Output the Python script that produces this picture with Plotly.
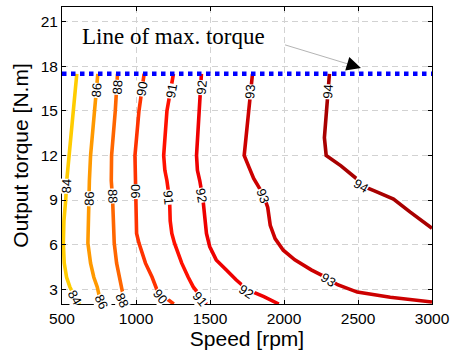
import plotly.graph_objects as go

# Axis ranges and ticks
speed_range = [500, 3000]
torque_range = [2, 22]
speed_ticks = [500, 1000, 1500, 2000, 2500, 3000]
torque_ticks = [3, 6, 9, 12, 15, 18, 21]
max_torque = 17.5

# Iso-efficiency lines (efficiency in %), speed in rpm, torque in N.m
eff84_speed = [600, 575, 547, 533, 525, 513, 509, 515, 531, 553, 585, 620]
eff84_torque = [17.5, 15, 12, 10.4, 9, 7.6, 6.1, 4.75, 3.8, 3.15, 2.5, 2.0]

eff86_speed = [742, 720, 693, 685, 682, 675, 675, 693, 715, 738, 764]
eff86_torque = [17.5, 15, 12, 10.3, 9, 7.6, 6.1, 4.75, 3.8, 3.15, 2.0]

eff88_speed = [875, 860, 835, 833, 842, 849, 853, 869, 887, 898, 925]
eff88_torque = [17.5, 15, 12, 10.3, 9, 7.6, 6.1, 4.75, 3.8, 3.15, 2.0]

eff90_speed = [1055, 1020, 993, 995, 998, 1004, 1020, 1064, 1109, 1140, 1190, 1255]
eff90_torque = [17.5, 15, 12, 10, 8, 6.75, 6.1, 4.75, 3.8, 3.0, 2.5, 2.0]

eff91_speed = [1253, 1209, 1187, 1195, 1209, 1227, 1231, 1242, 1260, 1309, 1353, 1387, 1476]
eff91_torque = [17.5, 15, 12, 11, 10.3, 9, 7.6, 6.75, 6.1, 4.75, 3.8, 3.15, 2.0]

eff92_speed = [1442, 1427, 1409, 1415, 1431, 1453, 1464, 1476, 1498, 1542, 1609, 1676, 1753, 1864, 1965]
eff92_torque = [17.5, 15, 12, 11, 10.3, 9, 7.6, 6.75, 5.87, 4.97, 4.3, 3.63, 2.96, 2.5, 2.0]

eff93_speed = [1787, 1760, 1731, 1764, 1795, 1862, 1890, 1907, 1940, 1995, 2073, 2184, 2273, 2362, 2495, 2718, 3000]
eff93_torque = [17.5, 15, 12, 11.2, 10.45, 9.33, 8.5, 7.3, 6.4, 5.62, 4.97, 4.3, 3.85, 3.3, 2.8, 2.45, 2.13]

eff94_speed = [2307, 2290, 2285, 2273, 2285, 2385, 2495, 2518, 2607, 2740, 2851, 3000]
eff94_torque = [17.5, 15.5, 14.5, 13.2, 12.0, 11.3, 10.4, 10.0, 9.63, 9.07, 8.2, 7.1]

levels = [84, 86, 88, 90, 91, 92, 93, 94]
level_lines = {
    84: (eff84_speed, eff84_torque),
    86: (eff86_speed, eff86_torque),
    88: (eff88_speed, eff88_torque),
    90: (eff90_speed, eff90_torque),
    91: (eff91_speed, eff91_torque),
    92: (eff92_speed, eff92_torque),
    93: (eff93_speed, eff93_torque),
    94: (eff94_speed, eff94_torque),
}
level_colors = {
    84: "#FFCC00", 86: "#FF9900", 88: "#FF6600", 90: "#FF3300",
    91: "#FF1000", 92: "#EE0000", 93: "#CC0000", 94: "#A80000",
}

# Inline contour labels: level, speed, torque, text angle
label_levels = [84, 84, 86, 86, 86, 88, 88, 88, 90, 90, 90,
                91, 91, 91, 92, 92, 92, 93, 93, 93, 94, 94]
label_speed = [531, 587, 731, 684, 767, 873, 842, 907, 1043, 998, 1164,
               1240, 1222, 1431, 1442, 1442, 1742, 1772, 1857, 2295, 2298, 2518]
label_torque = [9.9, 2.47, 16.4, 9.1, 2.2, 16.6, 9.3, 2.25, 16.5, 9.55, 2.5,
                16.3, 9.2, 2.38, 16.6, 9.3, 2.83, 16.3, 9.3, 3.63, 16.3, 10.0]
label_angle = [-88, 60, -85, -88, 65, -86, 88, 65, -80, -90, 50,
               -80, 85, 50, -85, 80, 33, -85, 70, 32, -86, 30]

fig = go.Figure()

for lv in levels:
    xs, ys = level_lines[lv]
    fig.add_trace(go.Scatter(
        x=xs, y=ys, mode="lines",
        line=dict(color=level_colors[lv], width=3.6),
        hoverinfo="skip", showlegend=False,
    ))

# Maximum torque boundary
fig.add_trace(go.Scatter(
    x=speed_range, y=[max_torque, max_torque], mode="lines",
    line=dict(color="#0000FF", width=4.5, dash="dot"),
    hoverinfo="skip", showlegend=False,
))

annotations = []
for lv, sx, ty, ang in zip(label_levels, label_speed, label_torque, label_angle):
    annotations.append(dict(
        x=sx, y=ty, xref="x", yref="y", text=str(lv), showarrow=False,
        textangle=ang, bgcolor="white", borderpad=0,
        font=dict(family="Liberation Sans, Arial, sans-serif", size=13, color="black"),
    ))

# Callout for the torque limit
annotations.append(dict(
    x=1250, y=20.0, xref="x", yref="y", text="Line of max. torque", showarrow=False,
    font=dict(family="Liberation Serif, Times New Roman, serif", size=23, color="black"),
))
annotations.append(dict(
    x=2520, y=17.9, xref="x", yref="y", text="", showarrow=True,
    ax=-13, ay=-3.9, arrowhead=2, arrowsize=2.2, arrowwidth=1.3, arrowcolor="black",
))

fig.update_layout(
    width=456, height=356,
    margin=dict(l=62, r=19, t=6, b=52),
    plot_bgcolor="white", paper_bgcolor="white",
    showlegend=False,
    font=dict(family="Liberation Sans, Arial, sans-serif", size=15.5, color="black"),
    annotations=annotations,
    shapes=[dict(
        type="line", xref="x", yref="y", x0=2007, y0=19.45, x1=2470, y1=18.05,
        line=dict(color="#b4b4b4", width=1),
    )],
)

axis_common = dict(
    ticks="inside", ticklen=4, tickcolor="black", tickwidth=1,
    showline=True, linecolor="black", linewidth=1, mirror="ticks",
    showgrid=True, gridcolor="#d2d2d2", gridwidth=1, griddash="6px,4px",
    zeroline=False, tickfont=dict(size=15.5, color="black"),
)
fig.update_xaxes(
    range=speed_range, tickvals=speed_ticks, **axis_common,
    title=dict(text="Speed [rpm]", font=dict(size=21, color="black"), standoff=4),
)
fig.update_yaxes(
    range=torque_range, tickvals=torque_ticks, **axis_common,
    title=dict(text="Output torque [N.m]", font=dict(size=21, color="black"), standoff=6),
)

fig.write_html("out.html")
